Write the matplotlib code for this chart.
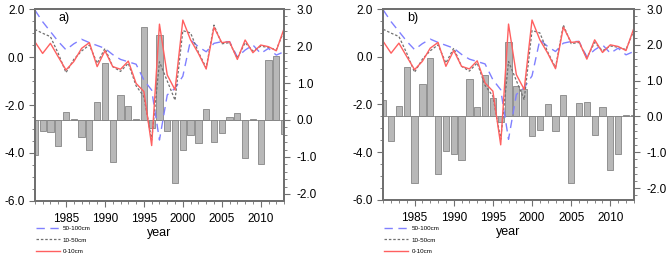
import numpy as np
import matplotlib
matplotlib.use("Agg")
import matplotlib.pyplot as plt
from matplotlib.ticker import MultipleLocator, FormatStrFormatter

plt.rcParams['font.family'] = ['Liberation Sans', 'DejaVu Sans']

# Data
years = np.arange(1981, 2014)

# soil layers (left axis), same in both panels
layer_0_10 = [0.64, 0.15, 0.57, 0.01, -0.54, -0.19, 0.36, 0.60, -0.40, 0.26,
              -0.40, -0.51, -0.17, -1.10, -1.44, -3.69, 1.37, -0.75, -1.37, 1.54,
              0.71, 0.15, -0.50, 1.24, 0.60, 0.64, -0.10, 0.71, 0.18, 0.50,
              0.43, 0.26, 1.19]
layer_10_50 = [1.15, 0.99, 0.85, 0.15, -0.65, -0.10, 0.25, 0.50, -0.26, 0.36,
               -0.40, -0.60, -0.26, -1.20, -1.65, -3.46, -0.20, -1.00, -1.80, 1.10,
               1.00, 0.20, -0.45, 1.33, 0.55, 0.60, -0.05, 0.60, 0.25, 0.45,
               0.40, 0.30, 1.10]
layer_50_100 = [1.96, 1.47, 1.06, 0.65, 0.30, 0.55, 0.74, 0.60, 0.48, 0.36,
                0.10, -0.10, -0.20, -0.30, -0.96, -1.38, -3.46, -1.58, -1.30, -0.80,
                0.71, 0.43, 0.22, 0.57, 0.64, 0.64, 0.00, 0.29, 0.50, 0.15,
                0.36, 0.08, 0.22]

# bars (right axis)
bars_a = [-0.96, -0.30, -0.33, -0.69, 0.21, 0.03, -0.47, -0.80, 0.49, 1.55,
          -1.14, 0.68, 0.38, 0.02, 2.52, -0.23, 2.29, -0.29, -1.70, -0.81,
          -0.40, -0.63, 0.31, -0.60, -0.36, 0.09, 0.20, -1.03, 0.02, -1.20,
          1.61, 1.73, -0.39]
bars_b = [0.45, -0.68, 0.30, 1.38, -1.85, 0.92, 1.64, -1.60, -0.95, -1.06,
          -1.21, 1.06, 0.27, 1.15, 0.53, -0.15, 2.08, 0.85, 0.76, -0.54,
          -0.38, 0.36, -0.40, 0.59, -1.85, 0.39, 0.41, -0.51, 0.26, -1.49,
          -1.06, 0.05, 0.05]

panels = [("a)", bars_a, (-2.19, 3.0001), [0.052, 0.221, 0.372, 0.744]),
          ("b)", bars_b, (-2.33, 3.0001), [0.572, 0.225, 0.374, 0.740])]

spine_col = "#707070"

fig = plt.figure(figsize=(6.7, 2.58), dpi=100)

for label, bars, rlim, rect in panels:
    ax = fig.add_axes(rect)
    axr = ax.twinx()
    ax.set_zorder(axr.get_zorder() + 1)
    ax.patch.set_visible(False)

    axr.bar(years, bars, width=0.8, color="#b8b8b8", edgecolor="#858585",
            linewidth=0.6)
    axr.axhline(0, color="#858585", lw=0.6)

    l1, = ax.plot(years, layer_50_100, color="#8080ff", lw=1.0,
                  dashes=(6, 4), label="50-100cm")
    l2, = ax.plot(years, layer_10_50, color="#707070", lw=0.9,
                  dashes=(2, 1.5), label="10-50cm")
    l3, = ax.plot(years, layer_0_10, color="#ff6060", lw=1.0, label="0-10cm")

    ax.set_xlim(1981, 2013)
    ax.set_ylim(-6, 2)
    axr.set_ylim(*rlim)

    ax.yaxis.set_major_locator(MultipleLocator(2))
    ax.yaxis.set_minor_locator(MultipleLocator(0.5))
    ax.yaxis.set_major_formatter(FormatStrFormatter("%.1f"))
    axr.yaxis.set_major_locator(MultipleLocator(1))
    axr.yaxis.set_minor_locator(MultipleLocator(0.2))
    axr.yaxis.set_major_formatter(FormatStrFormatter("%.1f"))
    ax.xaxis.set_major_locator(MultipleLocator(5))
    ax.xaxis.set_minor_locator(MultipleLocator(1))

    for a in (ax, axr):
        for s in a.spines.values():
            s.set_color(spine_col)
            s.set_linewidth(1.4)
        a.tick_params(which="major", length=4, width=0.8, color=spine_col,
                      labelsize=8.5)
        a.tick_params(which="minor", length=2.5, width=0.6, color=spine_col)
    ax.tick_params(axis="x", pad=5)
    axr.tick_params(axis="y", pad=5)

    ax.set_xlabel("year", fontsize=9, labelpad=1)
    ax.text(1984, 1.5, label, fontsize=9)

    fig.legend(handles=[l1, l2, l3], loc="upper left",
               bbox_to_anchor=(rect[0] - 0.002, 0.135), frameon=False,
               fontsize=4.5, handlelength=3.8, labelspacing=1.0,
               borderaxespad=0, handletextpad=0.5)

fig.savefig("out.png", dpi=100)
